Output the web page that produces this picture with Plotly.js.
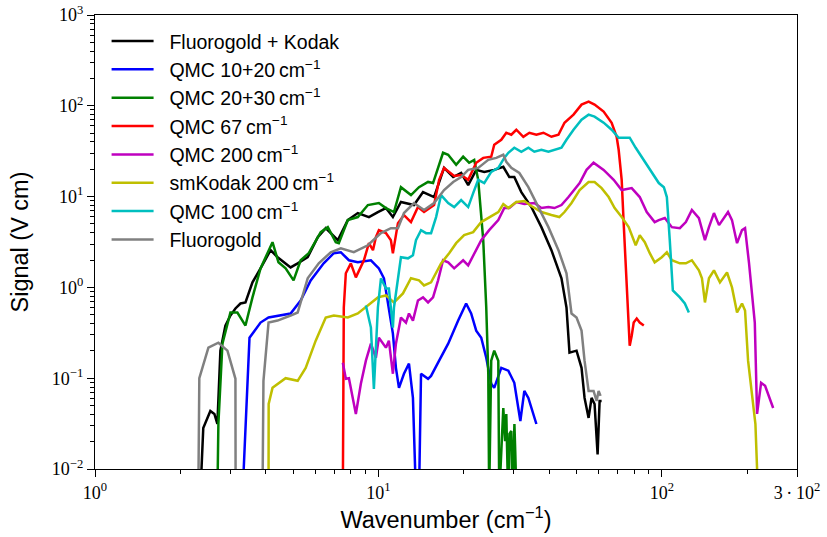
<!DOCTYPE html>
<html>
<head>
<meta charset="utf-8">
<script src="https://cdn.plot.ly/plotly-3.0.1.min.js"></script>
<style>html,body{margin:0;padding:0;background:#fff;}#chart{width:827px;height:537px;}</style>
</head>
<body>
<div id="chart"></div>
<script>
// Series names
const seriesNames = ["Fluorogold + Kodak", "QMC 10+20\u2009cm<sup>\u22121</sup>", "QMC 20+30\u2009cm<sup>\u22121</sup>",
  "QMC 67\u2009cm<sup>\u22121</sup>", "QMC 200\u2009cm<sup>\u22121</sup>", "smKodak 200\u2009cm<sup>\u22121</sup>",
  "QMC 100\u2009cm<sup>\u22121</sup>", "Fluorogold"];
const seriesColors = ["#000000", "#0000ff", "#008000", "#ff0000", "#bf00bf", "#bfbf00", "#00bfbf", "#808080"];

// Fluorogold + Kodak
const fkX = [2.353,2.41,2.553,2.638,2.703,2.77,2.885,3.005,3.13,3.261,3.396,3.595,3.838,4.164,4.409,4.901,5.19,5.63,6.11,6.52,7.19,7.80,8.46,9.26,9.96,10.63,11.25,12.01,13.35,14.37,15.72,17.05,18.36,19.59,20.74,22.14,23.63,25.63,27.59,28.97,30.17,31.94,34.66,37.6,40.79,44.26,46.1,47.24,50.02,52.1,53.39,55.17,56.52,57.92,59.36,60.34,61.33];
const fkY = [0.005,0.0282,0.0436,0.0404,0.0313,0.201,0.38,0.49,0.586,0.665,0.683,1.136,1.62,2.57,2.15,1.66,1.84,2.15,3.57,4.49,3.31,5.51,6.59,5.95,6.76,7.48,5.95,8.72,8.07,11.2,9.89,20.7,16.4,18.2,13.4,19.7,18.7,19.7,21.3,16.4,16.4,11.2,7.67,4.61,2.57,1.26,0.601,0.191,0.201,0.130,0.0607,0.0365,0.0607,0.052,0.0145,0.0562,0.0562];

// QMC 10+20
const q1020X = [3.315,3.509,3.838,4.096,4.901,5.318,5.769,6.41,6.96,7.368,7.87,8.46,9.41,10.04,10.46,10.89,11.25,11.53,11.82,12.31,12.82,13.24,13.57,13.91,14.14,14.97,15.34,16.38,17.63,19.12,20.4,21.25,22.14,23.06,24.02,25.01,25.63,27.14,28.74,30.17,31.69,32.73,33.82,36.1];
const q1020Y = [0.005,0.279,0.41,0.466,0.516,0.718,1.195,1.84,2.38,2.44,1.99,1.89,1.99,1.62,1.26,0.601,0.31,0.130,0.0783,0.112,0.145,0.0607,0.005,0.005,0.112,0.0985,0.106,0.156,0.24,0.431,0.665,0.516,0.334,0.279,0.168,0.0868,0.0783,0.130,0.121,0.089,0.0338,0.0725,0.0607,0.0313];

// QMC 20+30
const q2030X = [2.703,2.725,2.816,3.005,3.18,3.396,3.595,3.838,4.23,4.44,4.706,5.02,5.318,5.68,6.26,6.63,7.074,7.25,7.80,8.46,9.18,10.04,10.63,11.35,12.01,13.03,13.91,14.97,15.59,16.91,17.63,18.81,19.91,20.9,21.78,22.5,23.44,24.02,24.42,24.6,25.01,25.63,26.49,26.7,27.59,28.0,28.27,28.7,29.0,29.44,29.7,30.2,30.4,30.7];
const q2030Y = [0.005,0.0313,0.24,0.529,0.529,0.38,0.776,1.62,3.15,1.89,1.62,1.195,1.99,2.38,4.06,4.61,3.15,3.07,5.51,5.95,8.07,8.50,7.48,6.76,12.7,10.4,12.7,14.5,14.1,30.4,28.9,22.4,27.5,23.6,25.4,15.3,3.31,0.601,0.112,0.005,0.156,0.201,0.156,0.005,0.047,0.0203,0.0404,0.005,0.0243,0.0262,0.005,0.0313,0.0157,0.005];

// QMC 67
const q67X = [7.49,7.55,7.675,7.994,8.327,8.89,9.26,9.57,9.798,10.04,10.63,11.07,11.25,11.72,12.31,13.03,13.79,14.49,15.72,16.38,17.05,18.51,19.59,20.74,22.14,23.44,25.01,25.63,27.14,28.27,29.44,30.67,32.47,34.1,36.1,38.22,40.79,43.19,45.36,48.81,52.1,55.17,57.92,62.34,66.54,69.3,70.44,72.19,73.37,75.19,76.42,77.05,78.32,79.6,81.57,83.6,86.4];
const q67Y = [0.005,0.601,1.43,1.84,1.29,1.99,3.07,2.57,3.57,4.27,3.96,3.31,2.38,5.10,6.26,5.24,7.67,6.76,8.07,15.3,20.7,16.9,17.3,15.3,23.6,26.7,27.5,37.2,42.3,50.5,48.0,54.5,45.6,50.5,48.0,50.5,45.6,48.0,65.1,79.9,103,111,103,86.3,65.1,45.6,32.8,15.3,5.10,1.195,0.431,0.228,0.294,0.41,0.454,0.41,0.38];

// QMC 200
const q200X = [7.49,7.675,7.87,8.327,8.673,9.034,9.41,9.798,10.04,10.63,10.89,11.25,11.53,12.01,12.51,12.82,13.24,13.79,14.37,14.97,15.59,16.24,16.91,17.63,18.51,19.91,20.74,21.78,23.06,24.6,26.49,27.81,28.97,30.67,32.73,35.5,37.6,39.81,41.8,44.26,46.86,51.3,54.27,57.45,59.85,62.34,67.64,72.19,78.32,83.6,88.5,94.4,97.6,102.5,108.5,115.8,121.6,127.7,135.2,142.0,146.7,152.8,159.2,165.8,171.3,176.9,184.3,191.9,196.7,203.2,212.9,216.9,224.1,231.5,247.2];
const q200Y = [0.148,0.0985,0.1,0.0404,0.0868,0.156,0.24,0.168,0.279,0.217,0.259,0.112,0.24,0.466,0.41,0.516,0.431,0.718,0.776,0.683,0.776,1.195,1.99,1.89,1.62,1.99,1.75,2.38,3.31,4.27,5.51,7.48,7.48,8.72,8.28,8.50,7.48,7.67,7.48,8.07,9.89,14.1,19.7,23.6,21.3,19.7,15.3,11.8,12.4,9.89,6.76,5.24,5.51,5.80,4.61,4.49,5.24,7.11,5.80,3.31,4.61,6.59,4.85,5.80,6.76,5.51,3.07,4.27,4.49,1.84,0.41,0.0404,0.089,0.0824,0.047];

// smKodak 200
const smkX = [4.096,4.10,4.23,4.706,5.19,5.539,6.009,6.52,6.96,7.80,8.46,9.18,9.96,10.63,11.35,12.21,13.03,13.91,14.49,15.34,16.64,17.77,18.81,20.07,21.6,23.06,24.6,26.49,27.59,28.74,30.67,32.73,34.66,37.6,40.79,43.5,45.36,48.02,51.3,55.17,57.92,61.33,64.93,68.19,72.19,76.42,80.9,83.6,87.1,90.7,94.4,100,104.2,108.5,115.8,121.6,127.7,135.2,138.6,142.0,146.7,152.8,160.4,169.9,176.9,184.3,191.9,196.7,201.6,214.0,218.7];
const smkY = [0.005,0.052,0.0783,0.1,0.0936,0.13,0.259,0.466,0.49,0.466,0.516,0.632,0.776,0.816,0.683,0.858,1.26,1.195,1.052,1.136,1.84,2.38,3.07,3.76,4.06,5.24,5.95,6.76,8.28,7.48,8.72,8.94,7.87,6.76,6.26,5.95,6.76,8.50,11.8,14.5,14.5,12.4,9.89,7.48,5.95,4.61,2.91,3.76,3.15,2.38,1.89,2.15,2.44,1.99,1.84,1.84,1.99,1.54,1.26,0.683,1.26,1.54,1.136,1.46,1.0,0.529,0.665,0.557,0.156,0.0313,0.005];

// QMC 100
const q100X = [9.034,9.41,9.64,9.96,10.21,10.63,10.89,11.25,11.35,11.72,12.01,12.72,13.24,13.57,14.14,14.73,15.34,15.98,16.64,17.63,18.51,19.59,20.74,21.6,22.5,23.63,25.01,26.49,27.81,28.74,30.17,31.94,33.82,35.5,37.6,39.81,41.8,44.26,46.1,48.81,52.1,55.17,57.92,62.34,66.54,70.44,73.37,77.05,80.9,86.4,92.18,97.6,101.7,104.2,106.7,109.4,115.8,120.6,124.6];
const q100Y = [0.632,0.361,0.0764,0.601,1.26,0.975,0.975,0.361,0.601,1.26,2.15,2.09,2.26,3.31,4.27,3.96,3.96,5.95,10.4,8.50,7.67,9.17,7.67,10.9,15.3,14.1,18.7,20.7,26.7,30.4,34.5,31.2,34.5,31.2,32.8,31.2,32.8,34.5,42.3,54.5,70.4,79.9,76,65.2,54.5,44.5,44.5,44.5,34.5,25.4,18.2,14.1,12.7,9.89,3.31,0.926,0.776,0.665,0.529];

// Fluorogold
const fgX = [2.315,2.334,2.513,2.725,2.933,3.13,3.135,3.5,3.90,3.93,4.096,4.409,4.901,5.19,5.63,6.16,6.791,7.368,8.19,9.18,10.21,11.07,11.72,12.31,13.35,14.49,15.72,17.05,18.36,19.59,20.74,22.5,24.42,26.06,27.59,28.27,29.44,31.43,33.82,36.7,39.81,43.19,46.1,48.02,50.02,52.1,53.39,55.17,57.45,58.88,59.85,60.8];
const fgY = [0.005,0.1,0.217,0.246,0.201,0.0985,0.005,null,0.005,0.0936,0.41,0.431,0.49,0.529,1.26,1.84,2.44,2.70,2.44,2.91,3.96,4.49,4.49,6.59,8.50,7.11,8.50,11.8,14.5,16.4,19.7,20.7,25.4,26.7,28.9,24.2,20.7,18.2,12.7,7.67,4.61,2.57,1.43,0.516,0.466,0.334,0.156,0.0725,0.0725,0.0562,0.0725,0.0639];

// Axis ticks
const xTickVals = [1, 10, 100, 300];
const xTickText = ["10<sup>0</sup>", "10<sup>1</sup>", "10<sup>2</sup>", "3\u2009\u00b7\u200910<sup>2</sup>"];
const yTickVals = [0.01, 0.1, 1, 10, 100, 1000];
const yTickText = ["10<sup>\u22122</sup>", "10<sup>\u22121</sup>", "10<sup>0</sup>", "10<sup>1</sup>", "10<sup>2</sup>", "10<sup>3</sup>"];

const xMinor = [];
[1, 10, 100].forEach(d => { for (let k = 2; k <= 9; k++) { if (k * d < 300) xMinor.push(k * d); } });
const yMinor = [];
[0.01, 0.1, 1, 10, 100].forEach(d => { for (let k = 2; k <= 9; k++) yMinor.push(k * d); });

const xs = [fkX, q1020X, q2030X, q67X, q200X, smkX, q100X, fgX];
const ys = [fkY, q1020Y, q2030Y, q67Y, q200Y, smkY, q100Y, fgY];

const traces = xs.map((x, i) => ({
  x: x, y: ys[i], type: "scatter", mode: "lines", name: "\u00a0\u00a0" + seriesNames[i],
  line: {color: seriesColors[i], width: 2.5}, connectgaps: false
}));

const tickFont = {family: "Liberation Serif, DejaVu Serif, serif", size: 18, color: "#000"};
const titleFont = {family: "Liberation Sans, Arial, sans-serif", size: 23.5, color: "#000"};

const layout = {
  width: 827, height: 537,
  margin: {l: 95, r: 30, t: 15, b: 68},
  paper_bgcolor: "#fff", plot_bgcolor: "#fff",
  showlegend: true,
  legend: {x: 0.0165, y: 0.985, xanchor: "left", yanchor: "top", bgcolor: "rgba(0,0,0,0)",
    font: {family: "Liberation Sans, Arial, sans-serif", size: 19.5, color: "#000"}, itemwidth: 42, tracegroupgap: 0},
  xaxis: {
    type: "log", range: [0, Math.log10(300)], showgrid: false, zeroline: false,
    showline: true, linecolor: "#000", linewidth: 1.2, mirror: true,
    ticks: "outside", ticklen: 7, tickwidth: 1, tickcolor: "#000",
    tickmode: "array", tickvals: xTickVals, ticktext: xTickText, tickfont: tickFont,
    minor: {tickmode: "array", tickvals: xMinor, ticks: "outside", ticklen: 4, tickwidth: 1, tickcolor: "#000", showgrid: false},
    title: {text: "Wavenumber (cm<sup>\u22121</sup>)", font: titleFont, standoff: 6}
  },
  yaxis: {
    type: "log", range: [-2, 3], showgrid: false, zeroline: false,
    showline: true, linecolor: "#000", linewidth: 1.2, mirror: true,
    ticks: "outside", ticklen: 7, tickwidth: 1, tickcolor: "#000",
    tickmode: "array", tickvals: yTickVals, ticktext: yTickText, tickfont: tickFont,
    minor: {tickmode: "array", tickvals: yMinor, ticks: "outside", ticklen: 4, tickwidth: 1, tickcolor: "#000", showgrid: false},
    title: {text: "Signal (V cm)", font: titleFont, standoff: 16}
  }
};

Plotly.newPlot("chart", traces, layout, {displayModeBar: false, staticPlot: true});
</script>
</body>
</html>
